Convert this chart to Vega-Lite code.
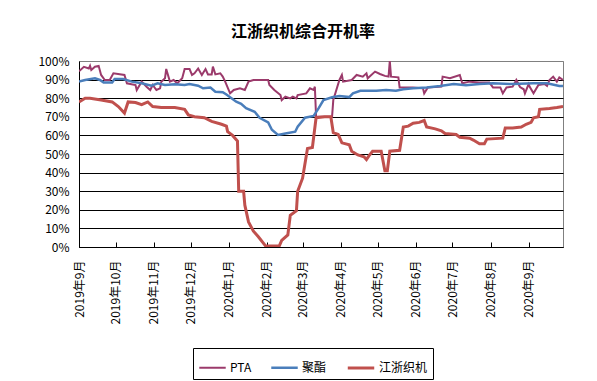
{
  "$schema": "https://vega.github.io/schema/vega-lite/v6.json",
  "width": 484,
  "height": 186,
  "autosize": {"type": "none"},
  "padding": {"left": 79, "top": 61, "right": 34, "bottom": 134},
  "background": "white",
  "config": {"view": {"stroke": "#808080", "strokeWidth": 1}, "font": "Noto Sans CJK SC"},
  "title": {"text": "江浙织机综合开机率", "fontSize": 16, "fontWeight": "bold", "anchor": "middle", "dx": -18, "offset": 15, "color": "black", "font": "Noto Sans CJK SC"},
  "datasets": {
    "rows": [
      {"date": "2019-09-01", "series": "PTA", "value": 94.5},
      {"date": "2019-09-05", "series": "PTA", "value": 96.9},
      {"date": "2019-09-09", "series": "PTA", "value": 96},
      {"date": "2019-09-10", "series": "PTA", "value": 97.4},
      {"date": "2019-09-11", "series": "PTA", "value": 95.2},
      {"date": "2019-09-14", "series": "PTA", "value": 96.9},
      {"date": "2019-09-17", "series": "PTA", "value": 97.4},
      {"date": "2019-09-19", "series": "PTA", "value": 92.5},
      {"date": "2019-09-22", "series": "PTA", "value": 89.8},
      {"date": "2019-09-26", "series": "PTA", "value": 89.8},
      {"date": "2019-09-29", "series": "PTA", "value": 93.4},
      {"date": "2019-10-08", "series": "PTA", "value": 92.5},
      {"date": "2019-10-10", "series": "PTA", "value": 88},
      {"date": "2019-10-17", "series": "PTA", "value": 87.1},
      {"date": "2019-10-18", "series": "PTA", "value": 84.4},
      {"date": "2019-10-22", "series": "PTA", "value": 88.9},
      {"date": "2019-10-26", "series": "PTA", "value": 86.2},
      {"date": "2019-10-29", "series": "PTA", "value": 84.4},
      {"date": "2019-10-31", "series": "PTA", "value": 87.1},
      {"date": "2019-11-03", "series": "PTA", "value": 84.4},
      {"date": "2019-11-06", "series": "PTA", "value": 85.3},
      {"date": "2019-11-07", "series": "PTA", "value": 88.9},
      {"date": "2019-11-10", "series": "PTA", "value": 90.7},
      {"date": "2019-11-11", "series": "PTA", "value": 95.7},
      {"date": "2019-11-14", "series": "PTA", "value": 88.9},
      {"date": "2019-11-17", "series": "PTA", "value": 89.8},
      {"date": "2019-11-20", "series": "PTA", "value": 88},
      {"date": "2019-11-24", "series": "PTA", "value": 90.7},
      {"date": "2019-11-26", "series": "PTA", "value": 95.7},
      {"date": "2019-11-30", "series": "PTA", "value": 95.7},
      {"date": "2019-12-02", "series": "PTA", "value": 92.5},
      {"date": "2019-12-04", "series": "PTA", "value": 93.4},
      {"date": "2019-12-07", "series": "PTA", "value": 96},
      {"date": "2019-12-10", "series": "PTA", "value": 92.5},
      {"date": "2019-12-13", "series": "PTA", "value": 95.7},
      {"date": "2019-12-15", "series": "PTA", "value": 92.8},
      {"date": "2019-12-18", "series": "PTA", "value": 92.8},
      {"date": "2019-12-19", "series": "PTA", "value": 97},
      {"date": "2019-12-21", "series": "PTA", "value": 92.8},
      {"date": "2019-12-25", "series": "PTA", "value": 93.4},
      {"date": "2019-12-27", "series": "PTA", "value": 91.6},
      {"date": "2019-12-29", "series": "PTA", "value": 88.9},
      {"date": "2020-01-02", "series": "PTA", "value": 82.6},
      {"date": "2020-01-05", "series": "PTA", "value": 84.4},
      {"date": "2020-01-10", "series": "PTA", "value": 85.3},
      {"date": "2020-01-14", "series": "PTA", "value": 84.4},
      {"date": "2020-01-17", "series": "PTA", "value": 88.9},
      {"date": "2020-01-21", "series": "PTA", "value": 89.8},
      {"date": "2020-02-02", "series": "PTA", "value": 89.8},
      {"date": "2020-02-03", "series": "PTA", "value": 87.1},
      {"date": "2020-02-07", "series": "PTA", "value": 84.4},
      {"date": "2020-02-12", "series": "PTA", "value": 81.7},
      {"date": "2020-02-13", "series": "PTA", "value": 79},
      {"date": "2020-02-16", "series": "PTA", "value": 80.8},
      {"date": "2020-02-20", "series": "PTA", "value": 79.9},
      {"date": "2020-02-22", "series": "PTA", "value": 80.8},
      {"date": "2020-02-25", "series": "PTA", "value": 79.9},
      {"date": "2020-02-26", "series": "PTA", "value": 81.7},
      {"date": "2020-03-04", "series": "PTA", "value": 82.6},
      {"date": "2020-03-07", "series": "PTA", "value": 85.3},
      {"date": "2020-03-10", "series": "PTA", "value": 84.4},
      {"date": "2020-03-11", "series": "PTA", "value": 86.2},
      {"date": "2020-03-12", "series": "PTA", "value": 70},
      {"date": "2020-03-25", "series": "PTA", "value": 70},
      {"date": "2020-03-26", "series": "PTA", "value": 79},
      {"date": "2020-03-31", "series": "PTA", "value": 89.8},
      {"date": "2020-04-02", "series": "PTA", "value": 92.5},
      {"date": "2020-04-03", "series": "PTA", "value": 88.9},
      {"date": "2020-04-10", "series": "PTA", "value": 89.8},
      {"date": "2020-04-14", "series": "PTA", "value": 92.5},
      {"date": "2020-04-19", "series": "PTA", "value": 91.6},
      {"date": "2020-04-22", "series": "PTA", "value": 93.4},
      {"date": "2020-04-23", "series": "PTA", "value": 90.7},
      {"date": "2020-04-29", "series": "PTA", "value": 94.3},
      {"date": "2020-05-03", "series": "PTA", "value": 93},
      {"date": "2020-05-07", "series": "PTA", "value": 92},
      {"date": "2020-05-10", "series": "PTA", "value": 91.6},
      {"date": "2020-05-11", "series": "PTA", "value": 100},
      {"date": "2020-05-12", "series": "PTA", "value": 91.6},
      {"date": "2020-05-18", "series": "PTA", "value": 91.2},
      {"date": "2020-05-19", "series": "PTA", "value": 85.8},
      {"date": "2020-05-30", "series": "PTA", "value": 85.8},
      {"date": "2020-06-07", "series": "PTA", "value": 85.3},
      {"date": "2020-06-08", "series": "PTA", "value": 82.6},
      {"date": "2020-06-11", "series": "PTA", "value": 85.8},
      {"date": "2020-06-22", "series": "PTA", "value": 86.2},
      {"date": "2020-06-23", "series": "PTA", "value": 91.6},
      {"date": "2020-06-29", "series": "PTA", "value": 90.7},
      {"date": "2020-07-07", "series": "PTA", "value": 92.5},
      {"date": "2020-07-09", "series": "PTA", "value": 88},
      {"date": "2020-07-15", "series": "PTA", "value": 88.9},
      {"date": "2020-07-23", "series": "PTA", "value": 88.5},
      {"date": "2020-07-31", "series": "PTA", "value": 88.5},
      {"date": "2020-08-03", "series": "PTA", "value": 85.8},
      {"date": "2020-08-09", "series": "PTA", "value": 85.8},
      {"date": "2020-08-11", "series": "PTA", "value": 82.6},
      {"date": "2020-08-14", "series": "PTA", "value": 85.8},
      {"date": "2020-08-19", "series": "PTA", "value": 86.2},
      {"date": "2020-08-22", "series": "PTA", "value": 89.8},
      {"date": "2020-08-25", "series": "PTA", "value": 86},
      {"date": "2020-08-28", "series": "PTA", "value": 84.8},
      {"date": "2020-08-29", "series": "PTA", "value": 82.6},
      {"date": "2020-09-01", "series": "PTA", "value": 87.6},
      {"date": "2020-09-02", "series": "PTA", "value": 86},
      {"date": "2020-09-05", "series": "PTA", "value": 82.6},
      {"date": "2020-09-09", "series": "PTA", "value": 87.1},
      {"date": "2020-09-14", "series": "PTA", "value": 87.6},
      {"date": "2020-09-16", "series": "PTA", "value": 86.6},
      {"date": "2020-09-18", "series": "PTA", "value": 89.8},
      {"date": "2020-09-21", "series": "PTA", "value": 91.6},
      {"date": "2020-09-24", "series": "PTA", "value": 88.9},
      {"date": "2020-09-26", "series": "PTA", "value": 91.2},
      {"date": "2020-09-29", "series": "PTA", "value": 89.8},

      {"date": "2019-09-01", "series": "聚酯", "value": 89},
      {"date": "2019-09-06", "series": "聚酯", "value": 89.8},
      {"date": "2019-09-14", "series": "聚酯", "value": 90.7},
      {"date": "2019-09-18", "series": "聚酯", "value": 89.8},
      {"date": "2019-09-21", "series": "聚酯", "value": 88.5},
      {"date": "2019-09-28", "series": "聚酯", "value": 88.5},
      {"date": "2019-09-30", "series": "聚酯", "value": 90.3},
      {"date": "2019-10-07", "series": "聚酯", "value": 90.3},
      {"date": "2019-10-14", "series": "聚酯", "value": 88.9},
      {"date": "2019-10-22", "series": "聚酯", "value": 88},
      {"date": "2019-10-30", "series": "聚酯", "value": 86.7},
      {"date": "2019-11-04", "series": "聚酯", "value": 88},
      {"date": "2019-11-10", "series": "聚酯", "value": 87.1},
      {"date": "2019-11-18", "series": "聚酯", "value": 87.5},
      {"date": "2019-11-26", "series": "聚酯", "value": 87.1},
      {"date": "2019-11-30", "series": "聚酯", "value": 87.6},
      {"date": "2019-12-07", "series": "聚酯", "value": 86.7},
      {"date": "2019-12-11", "series": "聚酯", "value": 85.3},
      {"date": "2019-12-17", "series": "聚酯", "value": 85.7},
      {"date": "2019-12-21", "series": "聚酯", "value": 83.5},
      {"date": "2019-12-27", "series": "聚酯", "value": 83.2},
      {"date": "2019-12-30", "series": "聚酯", "value": 82},
      {"date": "2020-01-07", "series": "聚酯", "value": 78.1},
      {"date": "2020-01-11", "series": "聚酯", "value": 77},
      {"date": "2020-01-15", "series": "聚酯", "value": 74.6},
      {"date": "2020-01-22", "series": "聚酯", "value": 72.7},
      {"date": "2020-01-26", "series": "聚酯", "value": 69.5},
      {"date": "2020-02-02", "series": "聚酯", "value": 67},
      {"date": "2020-02-05", "series": "聚酯", "value": 63},
      {"date": "2020-02-10", "series": "聚酯", "value": 60.2},
      {"date": "2020-02-16", "series": "聚酯", "value": 61},
      {"date": "2020-02-24", "series": "聚酯", "value": 62},
      {"date": "2020-02-26", "series": "聚酯", "value": 64.7},
      {"date": "2020-03-03", "series": "聚酯", "value": 69.5},
      {"date": "2020-03-10", "series": "聚酯", "value": 70.5},
      {"date": "2020-03-14", "series": "聚酯", "value": 74.5},
      {"date": "2020-03-18", "series": "聚酯", "value": 79},
      {"date": "2020-03-25", "series": "聚酯", "value": 80.5},
      {"date": "2020-03-31", "series": "聚酯", "value": 81.2},
      {"date": "2020-04-08", "series": "聚酯", "value": 80.6},
      {"date": "2020-04-11", "series": "聚酯", "value": 82.6},
      {"date": "2020-04-17", "series": "聚酯", "value": 84},
      {"date": "2020-04-30", "series": "聚酯", "value": 84},
      {"date": "2020-05-08", "series": "聚酯", "value": 84.4},
      {"date": "2020-05-16", "series": "聚酯", "value": 84},
      {"date": "2020-05-22", "series": "聚酯", "value": 84.8},
      {"date": "2020-05-30", "series": "聚酯", "value": 85.3},
      {"date": "2020-06-10", "series": "聚酯", "value": 85.8},
      {"date": "2020-06-21", "series": "聚酯", "value": 86.6},
      {"date": "2020-07-02", "series": "聚酯", "value": 87.6},
      {"date": "2020-07-12", "series": "聚酯", "value": 87},
      {"date": "2020-07-23", "series": "聚酯", "value": 87.6},
      {"date": "2020-08-03", "series": "聚酯", "value": 88},
      {"date": "2020-08-19", "series": "聚酯", "value": 87.6},
      {"date": "2020-09-05", "series": "聚酯", "value": 88},
      {"date": "2020-09-16", "series": "聚酯", "value": 88},
      {"date": "2020-09-26", "series": "聚酯", "value": 86.6},
      {"date": "2020-09-29", "series": "聚酯", "value": 86.5},

      {"date": "2019-09-01", "series": "江浙织机", "value": 78},
      {"date": "2019-09-06", "series": "江浙织机", "value": 80},
      {"date": "2019-09-10", "series": "江浙织机", "value": 80},
      {"date": "2019-09-19", "series": "江浙织机", "value": 79},
      {"date": "2019-09-28", "series": "江浙织机", "value": 78},
      {"date": "2019-10-03", "series": "江浙织机", "value": 75.5},
      {"date": "2019-10-08", "series": "江浙织机", "value": 72},
      {"date": "2019-10-11", "series": "江浙织机", "value": 78},
      {"date": "2019-10-17", "series": "江浙织机", "value": 77.7},
      {"date": "2019-10-22", "series": "江浙织机", "value": 76.5},
      {"date": "2019-10-27", "series": "江浙织机", "value": 78},
      {"date": "2019-10-31", "series": "江浙织机", "value": 75.5},
      {"date": "2019-11-07", "series": "江浙织机", "value": 75},
      {"date": "2019-11-18", "series": "江浙织机", "value": 75},
      {"date": "2019-11-26", "series": "江浙织机", "value": 74},
      {"date": "2019-11-29", "series": "江浙织机", "value": 71},
      {"date": "2019-12-04", "series": "江浙织机", "value": 70},
      {"date": "2019-12-12", "series": "江浙织机", "value": 69.5},
      {"date": "2019-12-18", "series": "江浙织机", "value": 67.5},
      {"date": "2019-12-26", "series": "江浙织机", "value": 66},
      {"date": "2019-12-30", "series": "江浙织机", "value": 65},
      {"date": "2019-12-31", "series": "江浙织机", "value": 62},
      {"date": "2020-01-04", "series": "江浙织机", "value": 60},
      {"date": "2020-01-08", "series": "江浙织机", "value": 57},
      {"date": "2020-01-09", "series": "江浙织机", "value": 30},
      {"date": "2020-01-13", "series": "江浙织机", "value": 30},
      {"date": "2020-01-14", "series": "江浙织机", "value": 22.5},
      {"date": "2020-01-17", "series": "江浙织机", "value": 13.5},
      {"date": "2020-01-21", "series": "江浙织机", "value": 8.5},
      {"date": "2020-01-25", "series": "江浙织机", "value": 5.5},
      {"date": "2020-01-31", "series": "江浙织机", "value": 0.5},
      {"date": "2020-02-11", "series": "江浙织机", "value": 0.5},
      {"date": "2020-02-13", "series": "江浙织机", "value": 3.5},
      {"date": "2020-02-18", "series": "江浙织机", "value": 6.5},
      {"date": "2020-02-20", "series": "江浙织机", "value": 17},
      {"date": "2020-02-25", "series": "江浙织机", "value": 19.5},
      {"date": "2020-02-26", "series": "江浙织机", "value": 30},
      {"date": "2020-03-01", "series": "江浙织机", "value": 37},
      {"date": "2020-03-05", "series": "江浙织机", "value": 53},
      {"date": "2020-03-09", "series": "江浙织机", "value": 53.5},
      {"date": "2020-03-12", "series": "江浙织机", "value": 69.5},
      {"date": "2020-03-19", "series": "江浙织机", "value": 70},
      {"date": "2020-03-24", "series": "江浙织机", "value": 70},
      {"date": "2020-03-26", "series": "江浙织机", "value": 61.5},
      {"date": "2020-03-30", "series": "江浙织机", "value": 60.5},
      {"date": "2020-04-02", "series": "江浙织机", "value": 56},
      {"date": "2020-04-08", "series": "江浙织机", "value": 55},
      {"date": "2020-04-10", "series": "江浙织机", "value": 51.5},
      {"date": "2020-04-15", "series": "江浙织机", "value": 49.5},
      {"date": "2020-04-20", "series": "江浙织机", "value": 48.5},
      {"date": "2020-04-22", "series": "江浙织机", "value": 47},
      {"date": "2020-04-24", "series": "江浙织机", "value": 49},
      {"date": "2020-04-27", "series": "江浙织机", "value": 51.5},
      {"date": "2020-05-04", "series": "江浙织机", "value": 51.5},
      {"date": "2020-05-07", "series": "江浙织机", "value": 41},
      {"date": "2020-05-09", "series": "江浙织机", "value": 41},
      {"date": "2020-05-11", "series": "江浙织机", "value": 51.5},
      {"date": "2020-05-19", "series": "江浙织机", "value": 52},
      {"date": "2020-05-22", "series": "江浙织机", "value": 64.5},
      {"date": "2020-05-26", "series": "江浙织机", "value": 65},
      {"date": "2020-05-30", "series": "江浙织机", "value": 66.5},
      {"date": "2020-06-04", "series": "江浙织机", "value": 67},
      {"date": "2020-06-08", "series": "江浙织机", "value": 68},
      {"date": "2020-06-10", "series": "江浙织机", "value": 64.5},
      {"date": "2020-06-17", "series": "江浙织机", "value": 63.5},
      {"date": "2020-06-22", "series": "江浙织机", "value": 62.5},
      {"date": "2020-06-25", "series": "江浙织机", "value": 61},
      {"date": "2020-07-04", "series": "江浙织机", "value": 60.5},
      {"date": "2020-07-07", "series": "江浙织机", "value": 59},
      {"date": "2020-07-15", "series": "江浙织机", "value": 58.5},
      {"date": "2020-07-18", "series": "江浙织机", "value": 57.5},
      {"date": "2020-07-23", "series": "江浙织机", "value": 55.5},
      {"date": "2020-07-27", "series": "江浙织机", "value": 55.5},
      {"date": "2020-07-29", "series": "江浙织机", "value": 58},
      {"date": "2020-08-11", "series": "江浙织机", "value": 58.5},
      {"date": "2020-08-13", "series": "江浙织机", "value": 64},
      {"date": "2020-08-19", "series": "江浙织机", "value": 64},
      {"date": "2020-08-26", "series": "江浙织机", "value": 64.5},
      {"date": "2020-08-30", "series": "江浙织机", "value": 66},
      {"date": "2020-09-03", "series": "江浙织机", "value": 67},
      {"date": "2020-09-05", "series": "江浙织机", "value": 69.5},
      {"date": "2020-09-09", "series": "江浙织机", "value": 70},
      {"date": "2020-09-10", "series": "江浙织机", "value": 74},
      {"date": "2020-09-18", "series": "江浙织机", "value": 74.5},
      {"date": "2020-09-24", "series": "江浙织机", "value": 75},
      {"date": "2020-09-29", "series": "江浙织机", "value": 75.5}
    ]
  },
  "data": {"name": "rows"},
  "mark": {"type": "line", "clip": true, "interpolate": "linear"},
  "encoding": {
    "x": {
      "field": "date",
      "type": "temporal",
      "scale": {"type": "utc", "domain": [{"year": 2019, "month": 9, "date": 1, "utc": true}, {"year": 2020, "month": 9, "date": 29, "utc": true}]},
      "axis": {
        "title": null,
        "values": [
          {"year": 2019, "month": 9, "date": 1, "utc": true},
          {"year": 2019, "month": 10, "date": 1, "utc": true},
          {"year": 2019, "month": 11, "date": 1, "utc": true},
          {"year": 2019, "month": 12, "date": 1, "utc": true},
          {"year": 2020, "month": 1, "date": 1, "utc": true},
          {"year": 2020, "month": 2, "date": 1, "utc": true},
          {"year": 2020, "month": 3, "date": 1, "utc": true},
          {"year": 2020, "month": 4, "date": 1, "utc": true},
          {"year": 2020, "month": 5, "date": 1, "utc": true},
          {"year": 2020, "month": 6, "date": 1, "utc": true},
          {"year": 2020, "month": 7, "date": 1, "utc": true},
          {"year": 2020, "month": 8, "date": 1, "utc": true},
          {"year": 2020, "month": 9, "date": 1, "utc": true}
        ],
        "labelExpr": "utcFormat(datum.value, '%Y年%-m月')",
        "labelAngle": -90,
        "labelFontSize": 12,
        "labelColor": "black",
        "labelFont": "Noto Sans CJK SC",
        "labelPadding": 18,
        "labelOverlap": false,
        "labelFlush": false,
        "labelBound": false,
        "domainColor": "black",
        "domainWidth": 1,
        "tickColor": "black",
        "tickSize": -5,
        "grid": false
      }
    },
    "y": {
      "field": "value",
      "type": "quantitative",
      "scale": {"domain": [0, 100], "nice": false},
      "axis": {
        "title": null,
        "values": [0, 10, 20, 30, 40, 50, 60, 70, 80, 90, 100],
        "labelExpr": "datum.value + '%'",
        "labelFontSize": 12,
        "labelColor": "black",
        "labelFont": "Noto Sans CJK SC",
        "labelPadding": 10,
        "ticks": false,
        "domainColor": "black",
        "grid": true,
        "gridColor": {"condition": {"test": "datum.value === 100", "value": "#808080"}, "value": "black"},
        "gridWidth": 1,
        "gridOpacity": 1
      }
    },
    "color": {
      "field": "series",
      "type": "nominal",
      "scale": {"domain": ["PTA", "聚酯", "江浙织机"], "range": ["#9B3A6B", "#4A7EBB", "#C0504D"]},
      "legend": {
        "title": null,
        "orient": "none",
        "legendX": 114,
        "legendY": 287,
        "direction": "horizontal",
        "strokeColor": "black",
        "fillColor": "white",
        "padding": 5,
        "symbolType": "stroke",
        "symbolSize": 700,
        "symbolStrokeWidth": 2,
        "labelFontSize": 12,
        "labelColor": "black",
        "labelFont": "Noto Sans CJK SC",
        "labelOffset": 3,
        "columnPadding": 14
      }
    },
    "strokeWidth": {
      "field": "series",
      "type": "nominal",
      "scale": {"domain": ["PTA", "聚酯", "江浙织机"], "range": [2, 3, 4]},
      "legend": null
    }
  }
}
